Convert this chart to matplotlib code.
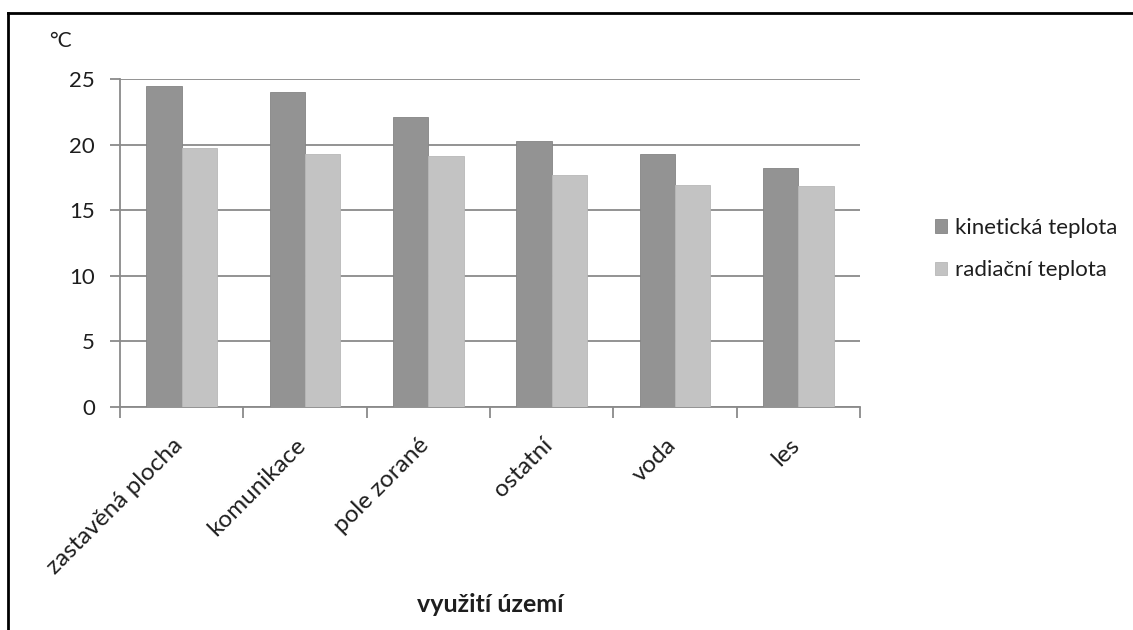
import matplotlib
matplotlib.use("Agg")
import matplotlib.pyplot as plt
import matplotlib.transforms as mtransforms
import numpy as np
from matplotlib.lines import Line2D

categories = ["zastavěná plocha", "komunikace", "pole zorané", "ostatní", "voda", "les"]
kineticka = [24.5, 24.0, 22.1, 20.3, 19.3, 18.2]
radiacni = [19.7, 19.3, 19.1, 17.7, 16.9, 16.85]
series_names = ["kinetická teplota", "radiační teplota"]
yticks = [0, 5, 10, 15, 20, 25]

plt.rcParams['font.family'] = ['Lato', 'DejaVu Sans']

W, H = 1133, 630
fig = plt.figure(figsize=(W / 100, H / 100), dpi=100)
fig.patch.set_facecolor("white")

# chart border (top and left visible)
fig.add_artist(Line2D([7.5 / W, 7.5 / W], [0, 1 - 12.5 / H], transform=fig.transFigure, color="black", lw=2))
fig.add_artist(Line2D([7.5 / W, 1], [1 - 12.5 / H, 1 - 12.5 / H], transform=fig.transFigure, color="black", lw=2))

x0, x1 = 120, 860
y0, y1 = 406.7, 79
ax = fig.add_axes([x0 / W, 1 - y0 / H, (x1 - x0) / W, (y0 - y1) / H])

n = len(categories)
x = np.arange(n)
bw = 1 / 3.5
c1, c2 = "#939393", "#c3c3c3"
ax.bar(x - bw / 2, kineticka, width=bw, color=c1, edgecolor="#858585", linewidth=0.6, zorder=3, label=series_names[0])
ax.bar(x + bw / 2, radiacni, width=bw, color=c2, edgecolor="#b8b8b8", linewidth=0.6, zorder=3, label=series_names[1])

FS = 16
tc = "#1e1e1e"
ax.set_xlim(-0.5, n - 0.5)
ax.set_ylim(0, 25)
ax.set_yticks(yticks)
ax.set_yticklabels([str(v) for v in yticks], fontsize=FS, color=tc)
ax.yaxis.grid(True, color="#8a8a8a", linewidth=1.3, zorder=0)
ax.set_axisbelow(True)

for s in ["top", "right"]:
    ax.spines[s].set_visible(False)
for s in ["left", "bottom"]:
    ax.spines[s].set_color("#8a8a8a")
    ax.spines[s].set_linewidth(1.3)
ax.tick_params(axis="y", direction="out", length=7, width=1.3, color="#8a8a8a", pad=11)

# category boundary ticks
ax.set_xticks(np.arange(-0.5, n, 1.0), minor=False)
ax.set_xticklabels([])
ax.tick_params(axis="x", which="major", direction="out", length=8, width=1.3, color="#8a8a8a")
ax.set_xticks(x, minor=True)
ax.set_xticklabels(categories, minor=True, rotation=45, ha="right", va="top",
                   rotation_mode="anchor", fontsize=17.5, color=tc)
ax.tick_params(axis="x", which="minor", length=0, pad=20)
shift = mtransforms.ScaledTranslation(-10 / 100, 0, fig.dpi_scale_trans)
for lab in ax.get_xticklabels(minor=True):
    lab.set_transform(lab.get_transform() + shift)

fig.text(60 / W, 1 - 41 / H, "°C", fontsize=FS - 1, color=tc, ha="center", va="center")
fig.text(490 / W, 1 - 605 / H, "využití území", fontsize=18, fontweight="bold", color=tc,
         ha="center", va="center")

leg = ax.legend(loc="center left", bbox_to_anchor=(915 / W, 1 - 249 / H), bbox_transform=fig.transFigure,
                frameon=False, fontsize=FS, handlelength=0.55, handleheight=0.55, handletextpad=0.35,
                labelspacing=1.0)
for t in leg.get_texts():
    t.set_color(tc)

fig.savefig("out.png", dpi=100, facecolor="white")
